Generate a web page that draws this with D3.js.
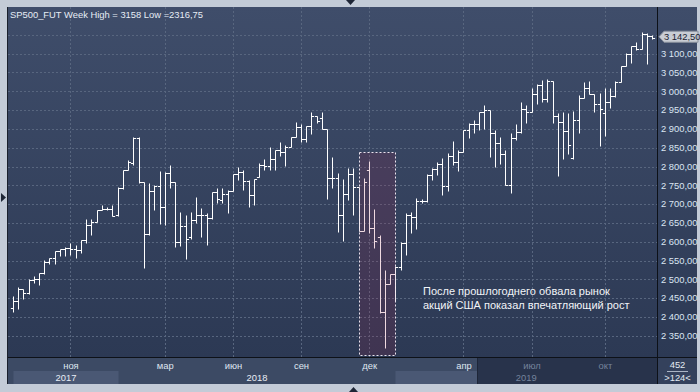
<!DOCTYPE html>
<html>
<head>
<meta charset="utf-8">
<script src="https://cdn.jsdelivr.net/npm/d3@7/dist/d3.min.js"></script>
<style>
  body { margin: 0; background: #c3cbd7; }
  svg { display: block; font-family: "Liberation Sans", Arial, sans-serif; }
</style>
</head>
<body>
<div id="chart"></div>
<script>
// SP500 futures, weekly OHLC bars (Aug 2017 - Dec 2019)
var opens = [2425,2442,2473,2463,2498,2500,2516,2545,2556,2575,
  2581,2582,2581,2578,2605,2645,2652,2684,2688,2686,
  2670,2742,2791,2808,2877,2758,2620,2736,2748,2691,
  2784,2758,2600,2643,2613,2658,2672,2671,2662,2733,
  2712,2726,2736,2780,2786,2762,2724,2773,2804,2801,
  2819,2844,2838,2853,2878,2906,2872,2909,2935,2928,
  2899,2769,2769,2671,2726,2780,2745,2629,2790,2637,
  2613,2414,2488,2513,2533,2597,2671,2665,2707,2709,
  2777,2793,2806,2748,2829,2811,2838,2897,2913,2913,
  2944,2950,2888,2863,2832,2751,2875,2893,2952,2944,
  2993,3017,2979,3028,2933,2919,2894,2822,2925,2981,
  3008,2993,2966,2941,2971,2988,3024,3066,3098,3120,
  3113,3152,3148];
var highs = [2456,2479,2474,2500,2509,2518,2551,2556,2576,2581,
  2585,2596,2591,2605,2660,2660,2684,2698,2691,2698,
  2745,2791,2817,2879,2879,2758,2755,2751,2789,2786,
  2804,2758,2680,2671,2680,2718,2689,2675,2733,2742,
  2742,2738,2780,2798,2790,2765,2766,2809,2819,2853,
  2844,2864,2857,2878,2918,2912,2909,2946,2935,2946,
  2899,2824,2782,2767,2795,2795,2745,2769,2815,2687,
  2618,2525,2513,2536,2598,2677,2680,2715,2714,2780,
  2795,2813,2822,2837,2868,2844,2897,2915,2925,2944,
  2964,2950,2897,2878,2844,2888,2912,2971,2964,3008,
  3019,3030,3032,3028,2941,2944,2941,2948,2990,3024,
  3027,2993,2996,3008,3009,3027,3066,3101,3121,3132,
  3158,3155,3149];
var lows = [2414,2420,2447,2462,2491,2484,2515,2540,2542,2562,
  2562,2565,2556,2569,2596,2618,2652,2684,2684,2668,
  2668,2739,2790,2804,2755,2529,2618,2684,2646,2644,
  2742,2585,2588,2553,2606,2650,2612,2590,2660,2702,
  2702,2676,2736,2764,2738,2693,2698,2771,2791,2791,
  2791,2828,2802,2853,2878,2866,2866,2886,2915,2899,
  2713,2744,2627,2603,2711,2671,2629,2629,2622,2582,
  2411,2316.75,2487,2443,2524,2565,2622,2633,2702,2706,
  2764,2777,2724,2736,2804,2789,2838,2877,2890,2897,
  2900,2826,2800,2806,2751,2729,2870,2888,2915,2944,
  2966,2972,2972,2915,2776,2819,2833,2819,2890,2981,
  2992,2946,2855,2881,2955,2986,3024,3066,3076,3110,
  3113,3072,3140];
var closes = [2442,2473,2463,2498,2500,2516,2545,2556,2575,2581,
  2582,2581,2578,2605,2645,2652,2684,2688,2686,2668,
  2742,2791,2813,2877,2758,2620,2736,2748,2691,2784,
  2758,2598,2643,2606,2658,2672,2671,2662,2733,2713,
  2726,2736,2780,2786,2762,2724,2766,2804,2801,2819,
  2844,2838,2853,2878,2906,2872,2909,2935,2922,2899,
  2769,2769,2671,2726,2780,2745,2629,2760,2637,2603,
  2414,2488,2513,2533,2597,2671,2665,2707,2709,2777,
  2793,2806,2748,2829,2811,2838,2897,2913,2913,2944,
  2950,2888,2863,2832,2751,2875,2893,2952,2944,2993,
  3017,2979,3028,2933,2919,2894,2856,2925,2981,3008,
  2993,2966,2952,2971,2988,3024,3066,3098,3120,3113,
  3152,3148,3142.5];

// bar index where each month / year begins on the time axis
var monthIdx = [11, 29, 42, 55, 68, 86, 99, 113];
var monthLabels = ["ноя", "мар", "июн", "сен", "дек", "апр", "июл", "окт"];
var yearIdx = [0, 20, 73];
var yearLabels = ["2017", "2018", "2019"];
var priceTicks = [2350, 2400, 2450, 2500, 2550, 2600, 2650, 2700, 2750,
  2800, 2850, 2900, 2950, 3000, 3050, 3100, 3150];

// highlighted sell-off (bar index range, price range)
var boxIdx = [66, 73];
var boxPrice = [2300, 2838];
var noteLines = ["После прошлогоднего обвала рынок", "акций США показал впечатляющий рост"];

var W = 700, H = 392;
var plot = {left: 8, right: 657, top: 7, bottom: 357};

var ru = d3.formatLocale({decimal: ",", thousands: " ", grouping: [3], currency: ["", ""]});
var fmtPrice = ru.format(",.2f");
var fmtShort = function(v) { return String(Math.round(v * 100) / 100).replace(".", ","); };

var svg = d3.select("#chart").append("svg")
  .attr("width", W).attr("height", H);

var defs = svg.append("defs");
var grad = defs.append("linearGradient").attr("id", "bg")
  .attr("x1", 0).attr("y1", 0).attr("x2", 0).attr("y2", 1);
grad.append("stop").attr("offset", "0%").attr("stop-color", "#3f4d6a");
grad.append("stop").attr("offset", "100%").attr("stop-color", "#2c3954");
defs.append("clipPath").attr("id", "clip").append("rect")
  .attr("x", plot.left).attr("y", plot.top)
  .attr("width", plot.right - plot.left).attr("height", plot.bottom - plot.top);

// frame
svg.append("rect").attr("width", W).attr("height", H).attr("fill", "#c3cbd7");
svg.append("rect").attr("x", plot.left).attr("y", plot.top)
  .attr("width", 697 - plot.left).attr("height", plot.bottom - plot.top)
  .attr("fill", "url(#bg)");

var n = closes.length;
var x = d3.scaleLinear().domain([0, n - 1]).range([13.3, 652.6]);
var y = d3.scaleLinear().domain([2300, 3200]).range([354.5, 16.1]);
var px = function(i) { return Math.floor(x(i)) + 0.5; };
var py = function(v) { return Math.round(y(v)) + 0.5; };

var g = svg.append("g").attr("clip-path", "url(#clip)");

// grid
g.selectAll(".hgrid").data(priceTicks).enter().append("line")
  .attr("x1", plot.left).attr("x2", plot.right)
  .attr("y1", function(d) { return py(d); }).attr("y2", function(d) { return py(d); })
  .attr("stroke", "#58667f").attr("stroke-dasharray", "2,2");
g.selectAll(".vgrid").data(monthIdx).enter().append("line")
  .attr("x1", function(d) { return px(d); }).attr("x2", function(d) { return px(d); })
  .attr("y1", plot.top).attr("y2", plot.bottom)
  .attr("stroke", "#58667f").attr("stroke-dasharray", "2,2");

// OHLC bars
var tick = 2.6;
g.selectAll(".bar").data(d3.range(n)).enter().append("path")
  .attr("class", "bar")
  .attr("d", function(i) {
    var xv = px(i);
    return "M" + xv + "," + py(highs[i]) + "V" + py(lows[i]) +
      "M" + (xv - tick) + "," + py(opens[i]) + "H" + xv +
      "M" + xv + "," + py(closes[i]) + "H" + (xv + tick);
  })
  .attr("fill", "none").attr("stroke", "#ffffff").attr("stroke-width", 1);

// highlight box
g.append("rect")
  .attr("x", px(boxIdx[0])).attr("y", py(boxPrice[1]))
  .attr("width", px(boxIdx[1]) - px(boxIdx[0]))
  .attr("height", py(boxPrice[0]) - py(boxPrice[1]))
  .attr("fill", "rgba(160,30,70,0.17)")
  .attr("stroke", "#ece4ee").attr("stroke-dasharray", "2,2");

// note
var note = svg.append("text").attr("x", 423).attr("y", 295)
  .attr("fill", "#f2f4f8").style("font-size", "11px");
note.selectAll("tspan").data(noteLines).enter().append("tspan")
  .attr("x", 423).attr("dy", function(d, i) { return i ? 14 : 0; })
  .text(function(d) { return d; });

// title
svg.append("text").attr("x", 10).attr("y", 18)
  .attr("fill", "#e6ecf5").style("font-size", "9.4px")
  .text("SP500_FUT Week High = " + fmtShort(d3.max(highs)) + " Low =" + fmtShort(d3.min(lows)));

// right price axis (labels hidden behind the last-price tag are skipped)
var last = closes[n - 1], ty = y(last) - 1;
svg.selectAll(".plab").data(priceTicks.filter(function(d) { return Math.abs(y(d) - ty) > 9; }))
  .enter().append("text")
  .attr("x", 661).attr("y", function(d) { return y(d); })
  .attr("dy", "0.35em")
  .attr("fill", "#dbe5f3").style("font-size", "9.4px")
  .text(function(d) { return fmtPrice(d); });

// last price tag
svg.append("path")
  .attr("d", "M659," + ty + "L664," + (ty - 5.5) + "H698V" + (ty + 5.5) + "H664Z")
  .attr("fill", "#c9cdd4").attr("stroke", "#8b929e");
svg.append("text").attr("x", 664).attr("y", ty).attr("dy", "0.35em")
  .attr("fill", "#1b2230").style("font-size", "9.4px")
  .text(fmtPrice(last));

// time axis band
var band = {top: 358, mid: 371, bottom: 384};
svg.append("rect").attr("x", plot.left).attr("y", band.top)
  .attr("width", plot.right - plot.left).attr("height", band.bottom - band.top)
  .attr("fill", "#3c4a64");
var yearEnd = yearIdx.slice(1).concat([n + 0.8]);
svg.selectAll(".ybox").data(yearIdx).enter().filter(function(d, i) { return i % 2 === 0; })
  .append("rect")
  .attr("x", function(d) { return px(d); })
  .attr("y", band.mid)
  .attr("width", function(d) { var i = yearIdx.indexOf(d); return Math.min(px(yearEnd[i]), plot.right) - px(d); })
  .attr("height", band.bottom - band.mid)
  .attr("fill", "#4a5874");
var dimFrom = 477;
svg.append("rect").attr("x", dimFrom).attr("y", band.top)
  .attr("width", plot.right - dimFrom).attr("height", band.bottom - band.top)
  .attr("fill", "#28334b");
svg.append("line").attr("x1", dimFrom + 0.5).attr("x2", dimFrom + 0.5)
  .attr("y1", band.top).attr("y2", band.bottom).attr("stroke", "#1e2638");

svg.selectAll(".mlab").data(monthIdx).enter().append("text")
  .attr("x", function(d) { return x(d); }).attr("y", 368.5)
  .attr("text-anchor", "middle")
  .attr("fill", function(d) { return x(d) > dimFrom ? "#75839c" : "#dfe6f0"; })
  .style("font-size", "9.4px")
  .text(function(d, i) { return monthLabels[i]; });
svg.selectAll(".ylab").data(yearIdx).enter().append("text")
  .attr("x", function(d, i) { return (px(d) + Math.min(px(yearEnd[i]), plot.right)) / 2; })
  .attr("y", 380.5)
  .attr("text-anchor", "middle")
  .attr("fill", function(d, i) { return (px(d) + px(yearEnd[i])) / 2 > dimFrom ? "#75839c" : "#e8edf4"; })
  .style("font-size", "9.4px")
  .text(function(d, i) { return yearLabels[i]; });

// bottom-right info box
svg.append("rect").attr("x", plot.right).attr("y", band.top)
  .attr("width", 697 - plot.right).attr("height", band.bottom - band.top)
  .attr("fill", "#34415c");
svg.append("text").attr("x", 677.5).attr("y", 368).attr("text-anchor", "middle")
  .attr("fill", "#e3e9f2").style("font-size", "9.4px").text(n + 329);
svg.append("line").attr("x1", 667).attr("x2", 688).attr("y1", 371.5).attr("y2", 371.5)
  .attr("stroke", "#aab4c4");
svg.append("text").attr("x", 677.5).attr("y", 381).attr("text-anchor", "middle")
  .attr("fill", "#e3e9f2").style("font-size", "9.4px").text(">" + (n + 1) + "<");

// separators
svg.append("line").attr("x1", plot.left).attr("x2", 697).attr("y1", 357.5).attr("y2", 357.5)
  .attr("stroke", "#0d1118");
svg.append("line").attr("x1", 657.5).attr("x2", 657.5).attr("y1", plot.top).attr("y2", band.bottom)
  .attr("stroke", "#0d1118");
svg.append("line").attr("x1", 7.5).attr("x2", 7.5).attr("y1", plot.top).attr("y2", band.bottom)
  .attr("stroke", "#1a202c");

// scroll markers
svg.append("path").attr("d", "M346,0L355,0L350.5,5Z").attr("fill", "#1e2636");
svg.append("path").attr("d", "M349,392L358,392L353.5,387Z").attr("fill", "#1e2636");
svg.append("path").attr("d", "M1,193L1,202L6,197.5Z").attr("fill", "#1e2636");
</script>
</body>
</html>
